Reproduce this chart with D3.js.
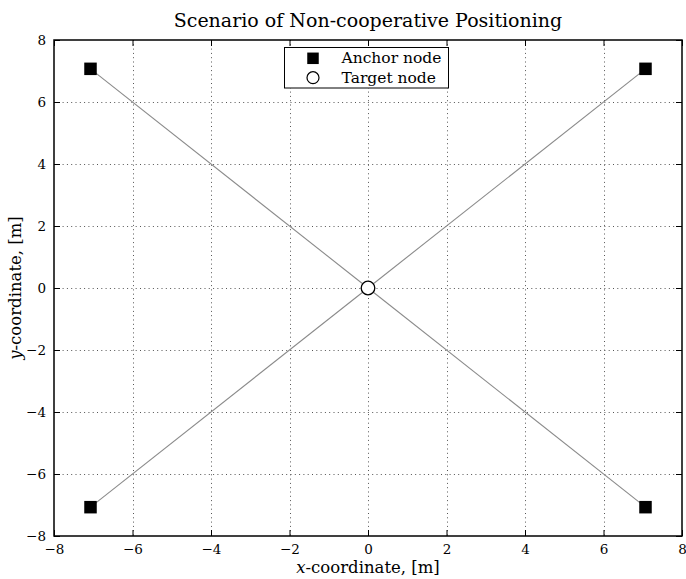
<!DOCTYPE html>
<html>
<head>
<meta charset="utf-8">
<script src="https://cdn.jsdelivr.net/npm/d3@7"></script>
<style>
  html, body { margin: 0; padding: 0; background: #fff; }
  svg { display: block; }
  svg text { font-family: "DejaVu Serif", serif; fill: #000; }
</style>
</head>
<body>
<svg id="chart" width="686" height="579"></svg>
<script>
// Anchor and target node positions, in metres
const anchorX = [-7.07, 7.07, -7.07, 7.07];
const anchorY = [7.07, 7.07, -7.07, -7.07];
const targetX = [0];
const targetY = [0];

// Axis ticks
const xTicks = [-8, -6, -4, -2, 0, 2, 4, 6, 8];
const yTicks = [-8, -6, -4, -2, 0, 2, 4, 6, 8];

const legendLabels = ["Anchor node", "Target node"];

const FONT = "DejaVu Serif, serif";
const W = 686, H = 579;
const m = { left: 54, right: 4, top: 40, bottom: 43 };
const svg = d3.select("#chart");

const x = d3.scaleLinear().domain([-8, 8]).range([m.left, W - m.right]);
const y = d3.scaleLinear().domain([-8, 8]).range([H - m.bottom, m.top]);

const x0 = x.range()[0], x1 = x.range()[1];
const y0 = y.range()[1], y1 = y.range()[0];

// Dotted grid
const grid = svg.append("g").attr("stroke", "#555").attr("stroke-width", 1)
  .attr("stroke-dasharray", "1,3.3");
grid.selectAll(".gx").data(xTicks.slice(1, -1)).enter().append("line")
  .attr("x1", d => Math.round(x(d)) + 0.5).attr("x2", d => Math.round(x(d)) + 0.5)
  .attr("y1", y0).attr("y2", y1);
grid.selectAll(".gy").data(yTicks.slice(1, -1)).enter().append("line")
  .attr("y1", d => Math.round(y(d)) + 0.5).attr("y2", d => Math.round(y(d)) + 0.5)
  .attr("x1", x0).attr("x2", x1);

// Links from every anchor to the target
const anchors = anchorX.map((v, i) => ({ x: v, y: anchorY[i] }));
const targets = targetX.map((v, i) => ({ x: v, y: targetY[i] }));
svg.append("g").selectAll("line").data(anchors).enter().append("line")
  .attr("x1", d => x(d.x)).attr("y1", d => y(d.y))
  .attr("x2", x(targets[0].x)).attr("y2", y(targets[0].y))
  .attr("stroke", "#8a8a8a").attr("stroke-width", 1.1);

// Axes: ticks point inward on all four sides
const tickLen = 6;
const fmt = d => d < 0 ? "\u2212" + Math.abs(d) : String(d);
const axBottom = d3.axisBottom(x).tickValues(xTicks).tickSize(-tickLen).tickPadding(8).tickFormat(fmt);
const axLeft = d3.axisLeft(y).tickValues(yTicks).tickSize(-tickLen).tickPadding(8).tickFormat(fmt);
const axTop = d3.axisTop(x).tickValues(xTicks).tickSize(-tickLen).tickFormat("");
const axRight = d3.axisRight(y).tickValues(yTicks).tickSize(-tickLen).tickFormat("");

function style(g) {
  g.attr("font-family", FONT).attr("font-size", 13.5);
  g.select(".domain").remove();
  g.selectAll(".tick line").attr("stroke", "#000").attr("stroke-width", 1);
}
svg.append("g").attr("transform", `translate(0,${y1})`).call(axBottom).call(style);
svg.append("g").attr("transform", `translate(${x0},0)`).call(axLeft).call(style);
svg.append("g").attr("transform", `translate(0,${y0})`).call(axTop).call(style);
svg.append("g").attr("transform", `translate(${x1},0)`).call(axRight).call(style);

// Frame
svg.append("rect").attr("x", x0).attr("y", y0).attr("width", x1 - x0).attr("height", y1 - y0)
  .attr("fill", "none").attr("stroke", "#000").attr("stroke-width", 1.5);

// Anchor markers
const sq = 12.5;
svg.append("g").selectAll("rect").data(anchors).enter().append("rect")
  .attr("x", d => x(d.x) - sq / 2).attr("y", d => y(d.y) - sq / 2)
  .attr("width", sq).attr("height", sq).attr("fill", "#000");

// Target marker
svg.append("g").selectAll("circle").data(targets).enter().append("circle")
  .attr("cx", d => x(d.x)).attr("cy", d => y(d.y)).attr("r", 6.8)
  .attr("fill", "#fff").attr("stroke", "#000").attr("stroke-width", 1.3);

// Title and axis labels
svg.append("text").attr("x", x(0)).attr("y", 27).attr("text-anchor", "middle")
  .attr("font-family", FONT).attr("font-size", 19)
  .text("Scenario of Non-cooperative Positioning");

const xl = svg.append("text").attr("x", x(0)).attr("y", 573).attr("text-anchor", "middle")
  .attr("font-family", FONT).attr("font-size", 16.5);
xl.append("tspan").attr("font-style", "italic").text("x");
xl.append("tspan").text("-coordinate, [m]");

const yl = svg.append("text").attr("transform", `translate(21,${y(0)}) rotate(-90)`)
  .attr("text-anchor", "middle").attr("font-family", FONT).attr("font-size", 16.5);
yl.append("tspan").attr("font-style", "italic").text("y");
yl.append("tspan").text("-coordinate, [m]");

// Legend
const lg = svg.append("g");
lg.append("rect").attr("x", 284.5).attr("y", 47.5).attr("width", 164).attr("height", 40.5)
  .attr("fill", "#fff").attr("stroke", "#000").attr("stroke-width", 1);
const lsq = 11.5;
lg.append("rect").attr("x", 313 - lsq / 2).attr("y", 58.3 - lsq / 2)
  .attr("width", lsq).attr("height", lsq).attr("fill", "#000");
lg.append("circle").attr("cx", 313).attr("cy", 77.7).attr("r", 6)
  .attr("fill", "#fff").attr("stroke", "#000").attr("stroke-width", 1.2);
lg.selectAll("text.lab").data(legendLabels).enter().append("text")
  .attr("x", 341.5).attr("y", (d, i) => 63.3 + i * 19.4)
  .attr("font-family", FONT).attr("font-size", 15.5).text(d => d);
</script>
</body>
</html>
